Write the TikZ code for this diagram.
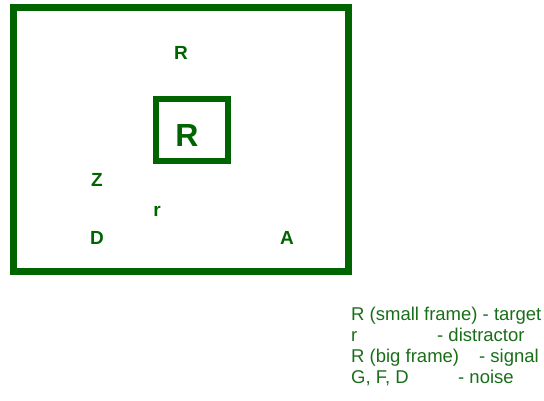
\documentclass[tikz,border=0pt]{standalone}
\usepackage{fontspec}
\setmainfont{Liberation Sans}
\definecolor{dg}{RGB}{0,100,0}
\definecolor{lg}{RGB}{25,110,25}
\begin{document}
\begin{tikzpicture}[x=1pt,y=-1pt,
  frame/.style={draw=dg,line width=#1},
  let/.style={text=dg,inner sep=0pt,anchor=base,font=\fontsize{19}{19}\selectfont\bfseries},
  leg/.style={text=lg,inner sep=0pt,anchor=base west,font=\fontsize{18.5}{21}\selectfont}]
\useasboundingbox (0,0) rectangle (544,401);
\draw[frame=7] (13.5,7.5) rectangle (348.5,271.5);
\draw[frame=6] (156,99) rectangle (228,161);
\node[let] (rtop) at (181,60) {R};
\node[let,font=\fontsize{32}{32}\selectfont\bfseries] (rbig) at (187,146.5) {R};
\node[let] (z) at (97,187) {Z};
\node[let] (r) at (157,217) {r};
\node[let] (d) at (97,244) {D};
\node[let] (a) at (287,244) {A};
\node[leg] (l1) at (351,320) {R (small frame) - target};
\node[leg] (l2a) at (351,341) {r};
\node[leg] (l2b) at (437,341) {- distractor};
\node[leg] (l3a) at (351,362) {R (big frame)};
\node[leg] (l3b) at (479,362) {- signal};
\node[leg] (l4a) at (351,383) {G, F, D};
\node[leg] (l4b) at (458,383) {- noise};
\end{tikzpicture}
\end{document}
